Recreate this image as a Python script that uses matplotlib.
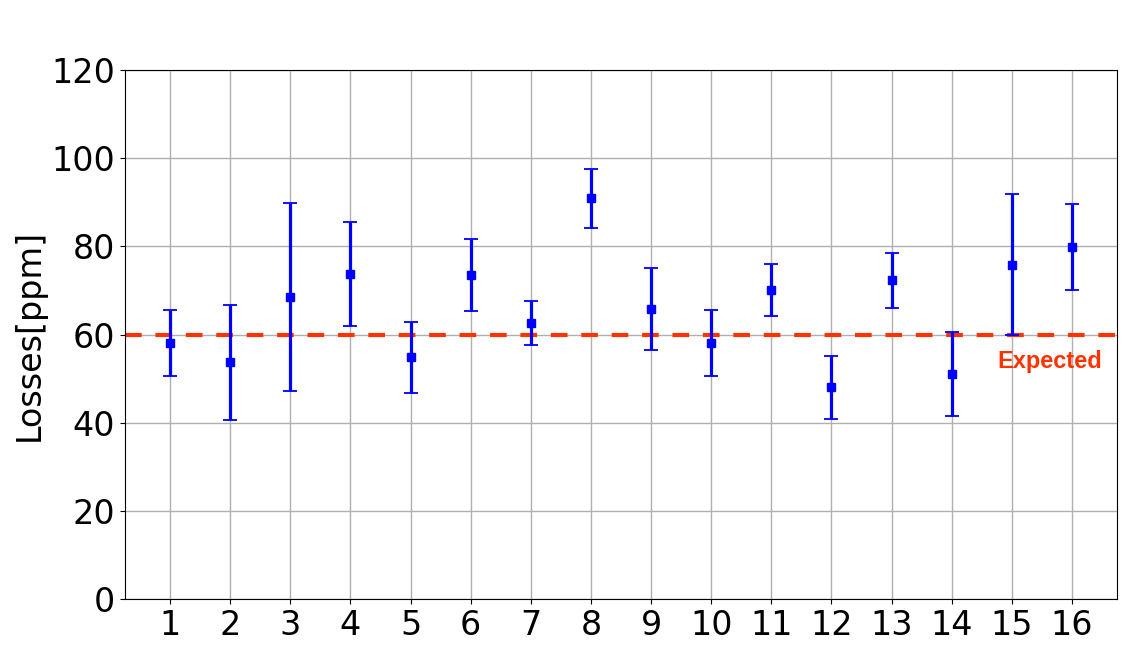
import matplotlib
matplotlib.use("Agg")
import matplotlib.pyplot as plt
import numpy as np

samples = list(range(1, 17))
losses = [58.0, 53.7, 68.5, 73.7, 54.8, 73.5, 62.6, 90.9, 65.9, 58.0, 70.0, 48.0, 72.3, 51.0, 75.8, 79.8]
errors = [7.5, 13.0, 21.3, 11.8, 8.0, 8.2, 5.0, 6.7, 9.3, 7.5, 5.9, 7.2, 6.3, 9.5, 16.0, 9.8]
expected = 60
ylabel = "Losses[ppm]"
expected_label = "Expected"

fig = plt.figure(figsize=(11.45, 6.72), dpi=100)
ax = fig.add_axes([0.1092, 0.1086, 0.8663, 0.7872])

ax.grid(True, color="#b0b0b0", linewidth=1.0, zorder=0)
ax.set_axisbelow(True)

ax.axhline(expected, color="#ff3300", linewidth=3.0, dashes=(4, 3.3), zorder=2)
ax.errorbar(samples, losses, yerr=errors, fmt="s", color="#0000ff", ecolor="#0000ff",
            markersize=6, elinewidth=2.3, capsize=5, capthick=1.3, zorder=3)

ax.text(15.63, 52.5, expected_label, color="#ff3300", fontsize=17, fontweight="bold",
        family=["Liberation Sans", "DejaVu Sans"], ha="center", va="baseline", zorder=4)

ax.set_xlim(0.25, 16.75)
ax.set_ylim(0, 120)
ax.set_xticks(samples)
ax.set_yticks(np.arange(0, 121, 20))
ax.tick_params(axis="both", labelsize=24)
ax.set_ylabel(ylabel, fontsize=24)

fig.savefig("out.png", dpi=100)
